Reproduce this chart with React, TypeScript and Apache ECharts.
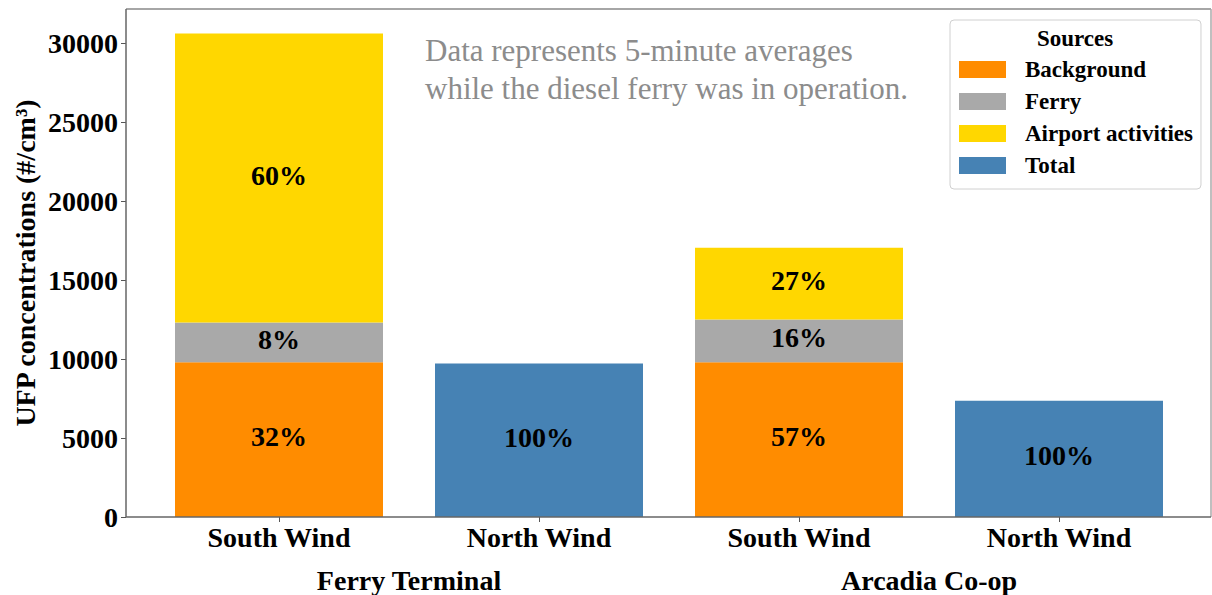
import React, { useEffect, useRef } from "react";
import * as echarts from "echarts";

const categories = ["South Wind", "North Wind", "South Wind", "North Wind"];
const groups = ["Ferry Terminal", "Arcadia Co-op"];
const background = [9810, null, 9810, null];
const ferry = [2513, null, 2703, null];
const airport = [18327, null, 4557, null];
const total = [null, 9728, null, 7361];
const yTicks = [0, 5000, 10000, 15000, 20000, 25000, 30000];
const legendNames = ["Background", "Ferry", "Airport activities", "Total"];
const colors = ["#FF8C00", "#A9A9A9", "#FFD700", "#4682B4"];

const FONT = "'Liberation Serif', 'Times New Roman', serif";

function sumAt(i: number): number {
  if (total[i] != null) return total[i] as number;
  return (background[i] || 0) + (ferry[i] || 0) + (airport[i] || 0);
}

export default function App() {
  const ref = useRef<HTMLDivElement>(null);
  useEffect(() => {
    if (!ref.current) return;
    const chart = echarts.init(ref.current, null, { renderer: "svg" });
    const label = {
      show: true,
      position: "inside",
      offset: [0, -3],
      color: "#000",
      fontFamily: FONT,
      fontWeight: "bold",
      fontSize: 28,
      formatter: (p: any) => Math.round((p.value / sumAt(p.dataIndex)) * 100) + "%",
    };
    const mk = (name: string, data: (number | null)[], color: string, stack: string) => ({
      name,
      type: "bar",
      stack,
      data,
      barWidth: 208,
      barGap: "-100%",
      itemStyle: { color },
      label,
      emphasis: { disabled: true },
    });
    const L = 126, T = 9, R = 1211, B = 517;
    chart.setOption({
      animation: false,
      grid: { left: 149, right: 23, top: T, bottom: 595 - B, containLabel: false },
      xAxis: {
        type: "category",
        data: categories,
        axisLine: { show: false },
        axisTick: { show: true, alignWithLabel: true, length: 5, lineStyle: { color: "#555" } },
        axisLabel: { color: "#000", fontFamily: FONT, fontWeight: "bold", fontSize: 28, margin: 6 },
      },
      yAxis: {
        type: "value",
        min: 0,
        max: 32200,
        offset: 23,
        splitLine: { show: false },
        axisLine: { show: false },
        axisTick: { show: true, length: 5, customValues: yTicks, lineStyle: { color: "#555" } },
        axisLabel: {
          customValues: yTicks,
          formatter: (v: number) => String(v),
          color: "#000",
          fontFamily: FONT,
          fontWeight: "bold",
          fontSize: 28,
          margin: 8,
        },
      },
      legend: {
        data: legendNames,
        orient: "vertical",
        left: 950,
        top: 20,
        padding: [38, 8, 12, 9],
        itemWidth: 47,
        itemHeight: 17,
        itemGap: 9,
        selectedMode: false,
        icon: "rect",
        borderColor: "#d0d0d0",
        borderWidth: 1,
        borderRadius: 4,
        backgroundColor: "rgba(255,255,255,0.85)",
        textStyle: {
          color: "#000",
          fontFamily: FONT,
          fontWeight: "bold",
          fontSize: 23,
          padding: [0, 0, 0, 14],
        },
      },
      series: [
        mk(legendNames[0], background, colors[0], "src"),
        mk(legendNames[1], ferry, colors[1], "src"),
        mk(legendNames[2], airport, colors[2], "src"),
        mk(legendNames[3], total, colors[3], "tot"),
      ],
      graphic: [
        { type: "line", shape: { x1: L, y1: T, x2: R, y2: T }, style: { stroke: "#888", lineWidth: 1.5 }, z: 100 },
        { type: "line", shape: { x1: R, y1: T, x2: R, y2: B }, style: { stroke: "#aaa", lineWidth: 1.5 }, z: 100 },
        { type: "line", shape: { x1: L, y1: B, x2: R, y2: B }, style: { stroke: "#666", lineWidth: 1.5 }, z: 100 },
        { type: "line", shape: { x1: L, y1: T, x2: L, y2: B }, style: { stroke: "#666", lineWidth: 1.5 }, z: 100 },
        {
          type: "text",
          x: 25,
          y: 263,
          rotation: Math.PI / 2,
          style: {
            text: "UFP concentrations (#/cm³)",
            fill: "#000",
            font: `bold 28px ${FONT}`,
            textAlign: "center",
            textVerticalAlign: "middle",
          },
        },
        {
          type: "text",
          x: 409,
          y: 580,
          style: { text: groups[0], fill: "#000", font: `bold 28px ${FONT}`, textAlign: "center", textVerticalAlign: "middle" },
        },
        {
          type: "text",
          x: 929,
          y: 580,
          style: { text: groups[1], fill: "#000", font: `bold 28px ${FONT}`, textAlign: "center", textVerticalAlign: "middle" },
        },
        {
          type: "text",
          x: 425,
          y: 31,
          style: {
            text: "Data represents 5-minute averages\nwhile the diesel ferry was in operation.",
            fill: "#8c8c8c",
            font: `31px ${FONT}`,
            lineHeight: 38,
            textAlign: "left",
            textVerticalAlign: "top",
          },
        },
        {
          type: "text",
          x: 1075,
          y: 38,
          z: 110,
          style: { text: "Sources", fill: "#000", font: `bold 23px ${FONT}`, textAlign: "center", textVerticalAlign: "middle" },
        },
      ],
    });
    return () => chart.dispose();
  }, []);
  return <div ref={ref} style={{ width: 1212, height: 595, position: "absolute", left: 0, top: 0 }} />;
}
